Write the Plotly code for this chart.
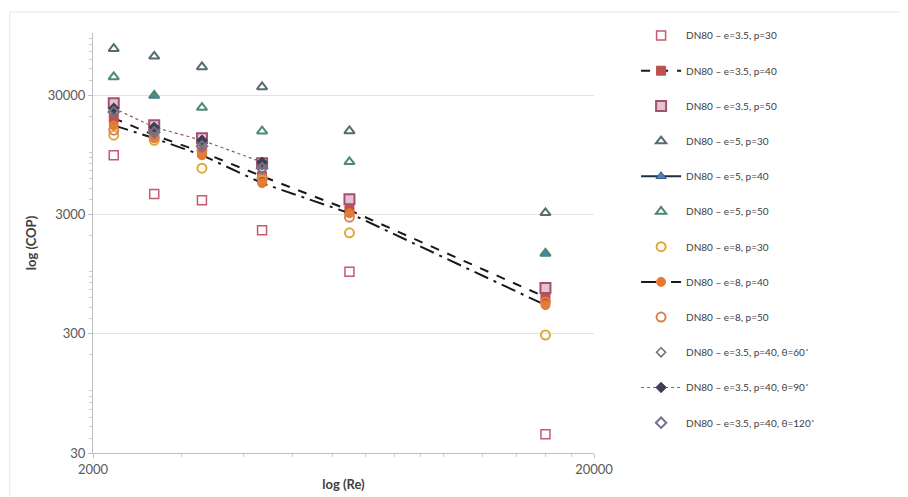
import plotly.graph_objects as go

re_vals = [2200, 2650, 3300, 4350, 6500, 16000]

e35_p30 = [9440, 4470, 3960, 2220, 993, 43]
e35_p40 = [19300, 13900, 10000, 6290, 3270, 609]
e35_p50 = [25800, 16800, 13100, 8090, 4040, 725]
e5_p30 = [73800, 63800, 51900, 35300, 15100, 3100]
e5_p40 = [None, 29900, None, None, None, 1416]
e5_p50 = [42800, 29900, 23700, 15000, 8300, 1416]
e8_p30 = [13900, 12600, 7340, 5830, 2110, 293]
e8_p40 = [16800, 13100, 9440, 5500, 3080, 522]
e8_p50 = [15300, 13400, 10400, 6050, 2850, 553]
th60 = [22500, 15300, 11900, 7780, None, None]
th90 = [23400, 16200, 12600, 8250, None, None]
th120 = [21700, 14700, 11200, 7340, None, None]

x_ticks = [2000, 20000]
x_tick_text = ["2000", "20000"]
y_ticks = [30, 300, 3000, 30000]
y_tick_text = ["30", "300", "3000", "30000"]
x_minor = [3000, 4000, 5000, 6000, 7000, 8000, 9000, 10000, 12000, 14000, 16000, 18000]
y_minor = [40, 50, 60, 70, 80, 90, 100, 200, 400, 500, 600, 700, 800, 900, 1000, 2000,
           4000, 5000, 6000, 7000, 8000, 9000, 10000, 20000, 40000, 50000, 60000, 70000, 80000, 90000]

series = [
    ("DN80 – e=3.5, p=30", e35_p30, "markers", dict(symbol="square-open", size=9, color="#c45a72", line=dict(width=1.5)), None),
    ("DN80 – e=3.5, p=40", e35_p40, "lines+markers", dict(symbol="square", size=9, color="#c0504d", line=dict(width=1, color="#c0504d")), dict(color="#1a1a1a", width=2, dash="dash")),
    ("DN80 – e=3.5, p=50", e35_p50, "markers", dict(symbol="square", size=10, color="#e3c3cf", line=dict(width=2, color="#a5506e")), None),
    ("DN80 – e=5, p=30", e5_p30, "markers", dict(symbol="triangle-up-open", size=9, color="#566d70", line=dict(width=2)), None),
    ("DN80 – e=5, p=40", e5_p40, "lines+markers", dict(symbol="triangle-up", size=9, color="#4f81bd", line=dict(width=1, color="#3c5f8a")), dict(color="#1f2d45", width=2)),
    ("DN80 – e=5, p=50", e5_p50, "markers", dict(symbol="triangle-up-open", size=9, color="#4b8a6c", line=dict(width=2)), None),
    ("DN80 – e=8, p=30", e8_p30, "markers", dict(symbol="circle-open", size=9, color="#e0a838", line=dict(width=2)), None),
    ("DN80 – e=8, p=40", e8_p40, "lines+markers", dict(symbol="circle", size=9, color="#e8782a", line=dict(width=1, color="#e8782a")), dict(color="#1a1a1a", width=2, dash="longdashdot")),
    ("DN80 – e=8, p=50", e8_p50, "markers", dict(symbol="circle-open", size=9, color="#d6844f", line=dict(width=2)), None),
    ("DN80 – e=3.5, p=40, θ=60˚", th60, "markers", dict(symbol="diamond-open", size=7, color="#6e6e6e", line=dict(width=1.5)), None),
    ("DN80 – e=3.5, p=40, θ=90˚", th90, "lines+markers", dict(symbol="diamond", size=8, color="#3d3f55", line=dict(width=1, color="#3d3f55")), dict(color="#8a5a6a", width=1.2, dash="dot")),
    ("DN80 – e=3.5, p=40, θ=120˚", th120, "markers", dict(symbol="diamond-open", size=8, color="#77708a", line=dict(width=2)), None),
]

fig = go.Figure()
for i, (name, vals, mode, marker, line) in enumerate(series):
    kw = dict(x=re_vals, y=vals, name=name, mode=mode, marker=marker,
              legendgroup=f"g{i}", connectgaps=False)
    if line is not None:
        kw["line"] = line
    fig.add_trace(go.Scatter(**kw))

font_family = "Lato, 'Open Sans', 'Liberation Sans', sans-serif"

fig.update_layout(
    width=900, height=489,
    margin=dict(l=85, r=314, t=25, b=44, autoexpand=False),
    paper_bgcolor="white", plot_bgcolor="white",
    font=dict(family=font_family, color="#595959", size=12),
    showlegend=True,
    legend=dict(
        x=1.084, y=1.0286, xanchor="left", yanchor="top",
        font=dict(size=10, color="#404040"),
        tracegroupgap=16.2, itemwidth=40,
        maxheight=480,
        bgcolor="rgba(0,0,0,0)",
    ),
    xaxis=dict(
        type="log", range=[3.30103, 4.30103],
        tickvals=x_ticks, ticktext=x_tick_text,
        showgrid=True, gridcolor="#e3e3e3",
        showline=True, linecolor="#bfbfbf", linewidth=1,
        ticks="outside", ticklen=4, tickcolor="#bfbfbf",
        minor=dict(tickvals=x_minor, ticks="outside", ticklen=3, tickcolor="#cccccc", showgrid=False),
        tickfont=dict(size=13, color="#595959"),
        title=dict(text="<b>log (Re)</b>", font=dict(size=13, color="#404040"), standoff=4),
        zeroline=False,
    ),
    yaxis=dict(
        type="log", range=[1.47712, 5.0],
        tickvals=y_ticks, ticktext=y_tick_text,
        showgrid=True, gridcolor="#e3e3e3",
        showline=True, linecolor="#bfbfbf", linewidth=1,
        ticks="outside", ticklen=4, tickcolor="#bfbfbf",
        minor=dict(tickvals=y_minor, ticks="outside", ticklen=3, tickcolor="#cccccc", showgrid=False),
        tickfont=dict(size=13, color="#595959"),
        title=dict(text="<b>log (COP)</b>", font=dict(size=13, color="#404040"), standoff=8),
        zeroline=False,
    ),
    shapes=[dict(type="rect", xref="paper", yref="paper",
                 x0=-0.166, x1=1.62, y0=-0.2, y1=1.05,
                 line=dict(color="#e6e6e6", width=1), fillcolor="rgba(0,0,0,0)", layer="below")],
)

fig.write_html("out.html")
